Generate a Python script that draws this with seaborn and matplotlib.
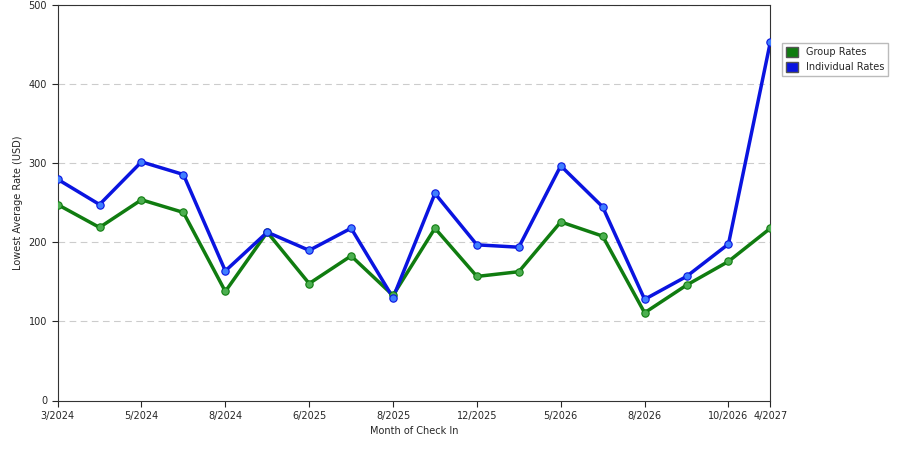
import matplotlib
matplotlib.use("Agg")
import matplotlib.pyplot as plt
import seaborn as sns
import pandas as pd

group = [248,219,254,238,138,213,148,183,133,218,157,163,226,208,111,146,176,218]
indiv = [280,248,302,286,164,213,190,218,130,262,197,194,297,245,128,157,198,454]
tick_pos = [0,2,4,6,8,10,12,14,16,17]
tick_labels = ["3/2024","5/2024","8/2024","6/2025","8/2025","12/2025","5/2026","8/2026","10/2026","4/2027"]

sns.set_style("white")
plt.rcParams['font.family'] = ['DejaVu Sans']
fig = plt.figure(figsize=(9, 4.5), dpi=100)
ax = fig.add_axes([0.064, 0.11, 0.792, 0.878])
x = list(range(len(group)))
df = pd.DataFrame({"x": x*2, "y": group+indiv,
                   "s": ["Group Rates"]*len(group)+["Individual Rates"]*len(indiv)})
for name, col, mcol in [("Group Rates", "#107c10", "#4caf50"), ("Individual Rates", "#0a14e0", "#3f7fff")]:
    d = df[df.s == name]
    sns.lineplot(data=d, x="x", y="y", ax=ax, color=col, linewidth=2.5, label=None)
    ax.scatter(d.x, d.y, s=28, color=mcol, edgecolor=col, linewidth=0.8, zorder=3)
ax.set_xlim(0, 17)
ax.set_ylim(0, 500)
ax.set_yticks(range(0, 501, 100))
ax.set_xticks(tick_pos)
ax.set_xticklabels(tick_labels)
ax.tick_params(labelsize=7, length=4, direction="out", bottom=True, left=True)
for yv in range(100, 501, 100):
    ax.axhline(yv, color="#cccccc", lw=0.8, ls=(0, (6, 4)), zorder=0)
ax.set_xlabel("Month of Check In", fontsize=7)
ax.set_ylabel("Lowest Average Rate (USD)", fontsize=7)
for s in ax.spines.values():
    s.set_color("#333333"); s.set_linewidth(0.8)
from matplotlib.patches import Patch
h = [Patch(facecolor="#107c10", edgecolor="#555"), Patch(facecolor="#0a14e0", edgecolor="#555")]
fig.legend(h, ["Group Rates", "Individual Rates"], loc="upper left", bbox_to_anchor=(0.864, 0.915),
           fontsize=7, frameon=True, edgecolor="#aaaaaa", fancybox=False, handlelength=1.2, handleheight=1.2)
fig.savefig("out.png")
